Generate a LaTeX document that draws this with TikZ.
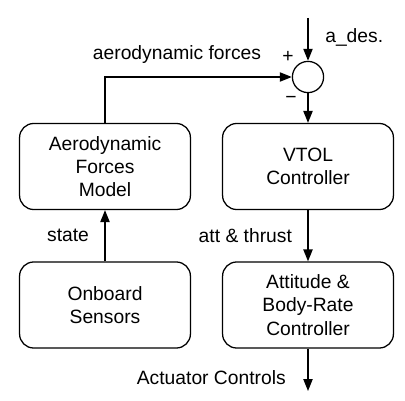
\documentclass[tikz,border=0pt]{standalone}
\usepackage{fontspec}
\setmainfont{Liberation Sans}
\usetikzlibrary{arrows.meta}
\tikzset{
  block/.style={draw, rounded corners=10pt, minimum width=4.27cm, minimum height=2.15cm,
    align=center, line width=0.9pt},
  sig/.style={-{Triangle[length=8.5pt,width=6.6pt]}, line width=0.9pt},
  lbl/.style={inner sep=0pt},
}
\begin{document}
\begin{tikzpicture}[x=0.025cm,y=-0.025cm]\fontsize{13.7}{16.6}\selectfont
  \useasboundingbox (0,0) rectangle (405,400);
  % blocks
  \node[block] (aero) at (105,166.5) {Aerodynamic\\Forces\\Model};
  \node[block] (vtol) at (308,166.5) {VTOL\\Controller};
  \node[block] (sensors) at (105,305) {Onboard\\Sensors};
  \node[block] (att) at (308,305) {Attitude \&\\Body-Rate\\Controller};
  \node[draw, circle, line width=0.9pt, minimum size=0.78cm, inner sep=0pt] (sum) at (308,77) {};
  \coordinate (ades) at (308,18);
  \coordinate (act) at (308,391);
  % signals
  \draw[sig] (ades) -- (sum.north);
  \node[lbl, anchor=west] (adeslbl) at (325,37) {a\_des.};
  \node[lbl] (plus) at (288,57) {+};
  \node[lbl] (minus) at (291,100) {−};
  \draw[sig] (aero.north) -- (aero.north |- sum.west) -- (sum.west);
  \node[lbl] (forceslbl) at (177,55) {aerodynamic forces};
  \draw[sig] (sum.south) -- (vtol.north);
  \draw[sig] (vtol.south) -- (att.north) node[midway, left=11pt, lbl] {att \& thrust};
  \draw[sig] (sensors.north) -- (aero.south) node[midway, left=11pt, lbl] {state};
  \draw[sig] (att.south) -- (act);
  \node[lbl, anchor=east] (actlbl) at (286,378) {Actuator Controls};
\end{tikzpicture}
\end{document}
